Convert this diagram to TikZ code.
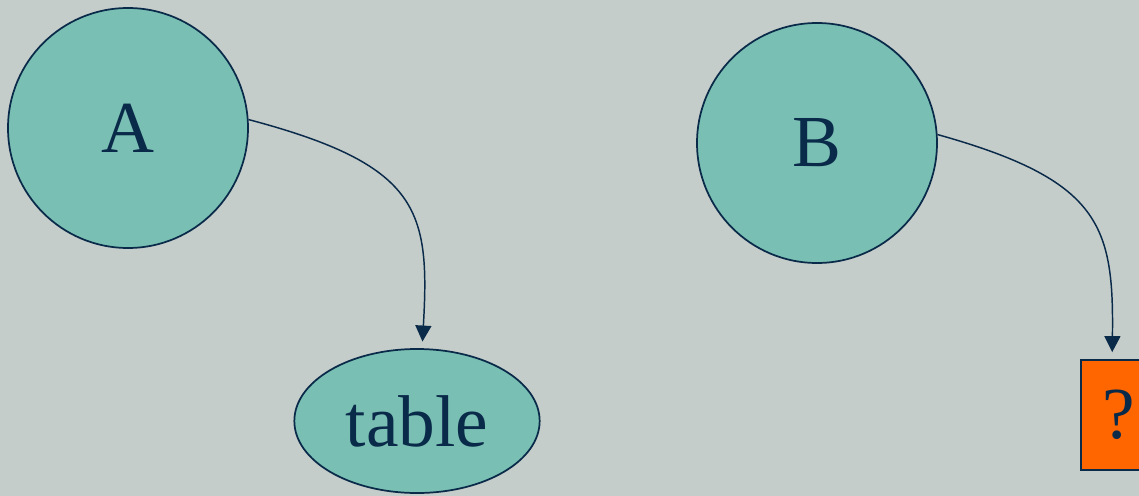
\documentclass[tikz,border=0pt]{standalone}
\usepackage{fontspec}
\setmainfont{Liberation Serif}
\usepackage{tikz}
\usetikzlibrary{positioning, arrows.meta, shapes.geometric}

\definecolor{bgcol}{HTML}{C5CDCA}
\definecolor{tealfill}{HTML}{79BFB3}
\definecolor{navy}{HTML}{0A2A4A}
\definecolor{boxorange}{HTML}{FF6600}

\tikzset{
    bubble/.style={circle, draw=navy, line width=1.3pt, fill=tealfill, text=navy, minimum size=180pt, inner sep=0pt},
    oval/.style={ellipse, draw=navy, line width=1.3pt, fill=tealfill, text=navy, minimum width=184pt, minimum height=108pt, inner sep=0pt},
    qbox/.style={rectangle, draw=navy, line width=1.3pt, fill=boxorange, text=navy, minimum width=57pt, minimum height=83pt, inner sep=0pt},
    link/.style={draw=navy, line width=1.1pt, -{Triangle[length=12pt,width=12pt]}, shorten >=5pt}
}

\begin{document}
\begin{tikzpicture}[x=0.75pt, y=-0.75pt, font=\fontsize{55}{60}\selectfont]

    \useasboundingbox (0,0) rectangle (1139,496);
    \path[fill=bgcol] (0,0) rectangle (1139,496);
    \clip (0,0) rectangle (1139,496);

    % the nodes
    \node[bubble] (A) at (128,128) {A};
    \node[bubble] (B) at (817,143) {B};
    \node[oval] (table) at (417,421) {table};
    \node[qbox] (q) at (1119,415) {?};

    % the links
    \path[link] (A.4) .. controls (420,165) and (430,210) .. (table.86);
    \path[link] (B.4) .. controls (1100,180) and (1114,225) .. (q.97);

\end{tikzpicture}
\end{document}
